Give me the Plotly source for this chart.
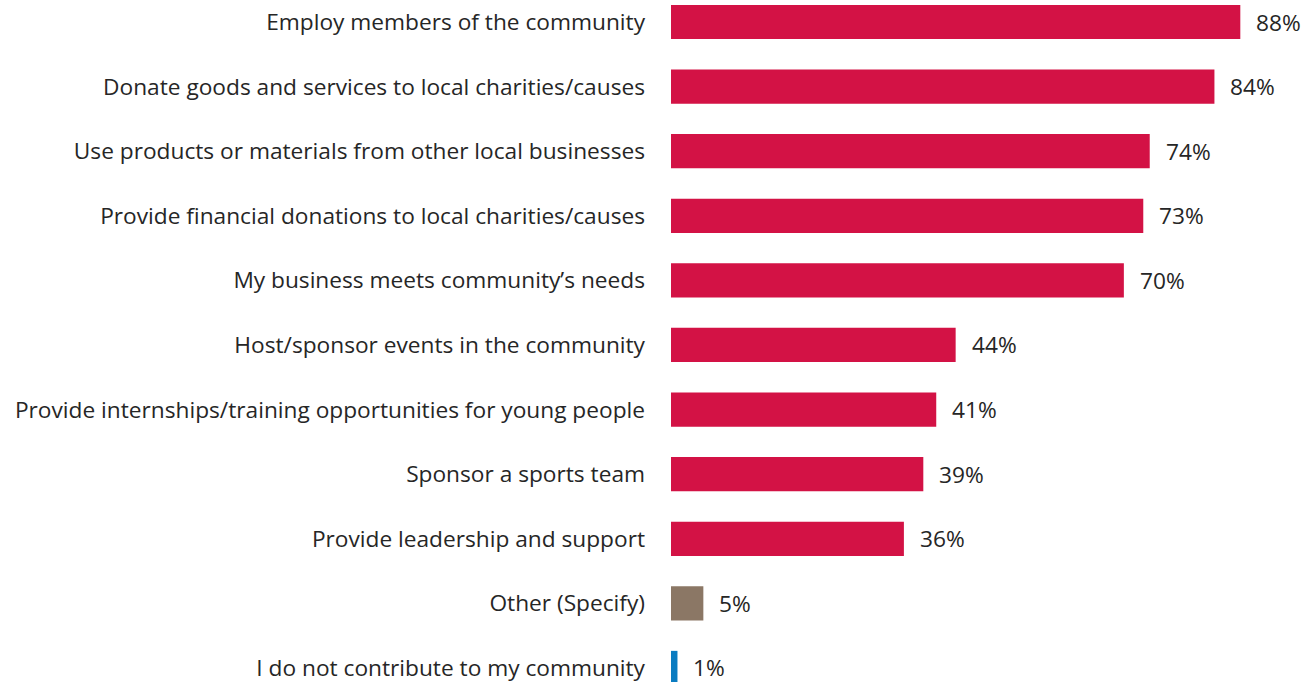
import plotly.graph_objects as go

categories = [
    "Employ members of the community",
    "Donate goods and services to local charities/causes",
    "Use products or materials from other local businesses",
    "Provide financial donations to local charities/causes",
    "My business meets community\u2019s needs",
    "Host/sponsor events in the community",
    "Provide internships/training opportunities for young people",
    "Sponsor a sports team",
    "Provide leadership and support",
    "Other (Specify)",
    "I do not contribute to my community",
]
values = [88, 84, 74, 73, 70, 44, 41, 39, 36, 5, 1]
colors = ["#D31245"] * 9 + ["#8B7765", "#0A7CC1"]

FONT = "Open Sans"
FONT_SIZE = 22.7
TEXT_COLOR = "#262626"

fig = go.Figure(
    go.Bar(
        x=values,
        y=categories,
        orientation="h",
        marker=dict(color=colors, line=dict(width=0)),
        width=0.53,
        hoverinfo="skip",
    )
)

for cat, v in zip(categories, values):
    fig.add_annotation(
        x=v, y=cat, text=f"{v}%", showarrow=False,
        xanchor="left", yanchor="middle", xshift=14,
        font=dict(family=FONT, size=FONT_SIZE, color=TEXT_COLOR),
    )

fig.update_layout(
    width=1309, height=682,
    margin=dict(l=671, r=4, t=0, b=0),
    paper_bgcolor="white", plot_bgcolor="white",
    showlegend=False,
    font=dict(family=FONT, size=FONT_SIZE, color=TEXT_COLOR),
)
fig.update_xaxes(range=[0, 98], visible=False, fixedrange=True)
fig.update_yaxes(
    categoryorder="array", categoryarray=categories,
    range=[10.217, -0.3406],
    showgrid=False, zeroline=False, showline=False,
    ticks="", ticklabelstandoff=25,
    tickfont=dict(family=FONT, size=FONT_SIZE, color=TEXT_COLOR),
)

fig.write_html("out.html")
